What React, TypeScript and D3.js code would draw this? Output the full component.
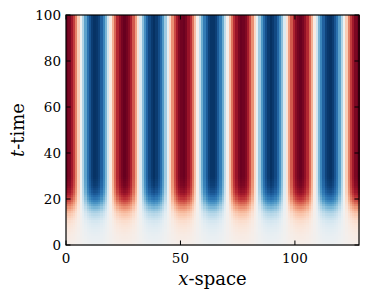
import React from "react";
import * as d3 from "d3";

// ---- data ----
const X_DOMAIN = [0, 128];
const T_DOMAIN = [0, 100];
const xTicks = [0, 50, 100];
const tTicks = [0, 20, 40, 60, 80, 100];
const wavelength = 25.6; // 5 stripe pairs across the domain
// spatial profile over half a period (phase as fraction of wavelength)
const profilePhase = [0, 0.0625, 0.125, 0.1875, 0.25, 0.3125, 0.375, 0.4375, 0.5];
const profileValue = [1, 0.94, 0.76, 0.44, 0, -0.44, -0.76, -0.94, -1];
// amplitude growth over time
const ampTime = [0, 5, 10, 14, 17, 20, 23, 26, 30, 100];
const ampValue = [0.04, 0.08, 0.15, 0.3, 0.5, 0.72, 0.88, 0.96, 1, 1];

const NX = 128;
const NT = 100;

const W = 367;
const H = 302;
const M = { left: 66, right: 359, top: 15, bottom: 245 };
const FONT = "DejaVu Serif";

export default function App() {
  const x = d3.scaleLinear().domain(X_DOMAIN).range([M.left, M.right]);
  const y = d3.scaleLinear().domain(T_DOMAIN).range([M.bottom, M.top]);
  const prof = d3.scaleLinear().domain(profilePhase).range(profileValue).clamp(true);
  const amp = d3.scaleLinear().domain(ampTime).range(ampValue).clamp(true);
  const color = (v: number) => d3.interpolateRdBu((1 - Math.max(-1, Math.min(1, v))) / 2);

  const dx = (X_DOMAIN[1] - X_DOMAIN[0]) / NX;
  const dt = (T_DOMAIN[1] - T_DOMAIN[0]) / NT;
  const cells: React.ReactElement[] = [];
  for (let j = 0; j < NT; j++) {
    const t0 = j * dt;
    const tc = t0 + dt / 2;
    const a = amp(tc);
    const y0 = y(t0 + dt);
    const hgt = y(t0) - y(t0 + dt);
    for (let i = 0; i < NX; i++) {
      const x0 = i * dx;
      const xc = x0 + dx / 2;
      let ph = (xc / wavelength) % 1;
      if (ph > 0.5) ph = 1 - ph;
      const v = a * prof(ph);
      cells.push(
        <rect
          key={j * NX + i}
          x={x(x0)}
          y={y0}
          width={x(x0 + dx) - x(x0) + 0.5}
          height={hgt + 0.5}
          fill={color(v)}
        />
      );
    }
  }

  const tick = 4.5;

  return (
    <svg
      width={W}
      height={H}
      style={{ position: "absolute", left: 0, top: 0, background: "#fff" }}
      fontFamily={FONT}
    >
      <g shapeRendering="crispEdges">{cells}</g>
      {/* ticks */}
      <g stroke="#000" strokeWidth={1}>
        {xTicks.map((v) => (
          <g key={"xt" + v}>
            <line x1={x(v)} x2={x(v)} y1={M.bottom} y2={M.bottom - tick} />
            <line x1={x(v)} x2={x(v)} y1={M.top} y2={M.top + tick} />
          </g>
        ))}
        {tTicks.map((v) => (
          <g key={"yt" + v}>
            <line x1={M.left} x2={M.left + tick} y1={y(v)} y2={y(v)} />
            <line x1={M.right} x2={M.right - tick} y1={y(v)} y2={y(v)} />
          </g>
        ))}
      </g>
      <rect
        x={M.left}
        y={M.top}
        width={M.right - M.left}
        height={M.bottom - M.top}
        fill="none"
        stroke="#000"
        strokeWidth={1.2}
      />
      {/* tick labels */}
      {xTicks.map((v) => (
        <text key={"xl" + v} x={x(v)} y={M.bottom + 18} textAnchor="middle" fontSize={13.5}>
          {v}
        </text>
      ))}
      {tTicks.map((v) => (
        <text key={"yl" + v} x={M.left - 5} y={y(v) + 5} textAnchor="end" fontSize={13.5}>
          {v}
        </text>
      ))}
      {/* axis labels */}
      <text x={(M.left + M.right) / 2} y={285} textAnchor="middle" fontSize={18}>
        <tspan fontStyle="italic">x</tspan>-space
      </text>
      <text
        transform={`translate(24, ${(M.top + M.bottom) / 2}) rotate(-90)`}
        textAnchor="middle"
        fontSize={18}
      >
        <tspan fontStyle="italic">t</tspan>-time
      </text>
    </svg>
  );
}
